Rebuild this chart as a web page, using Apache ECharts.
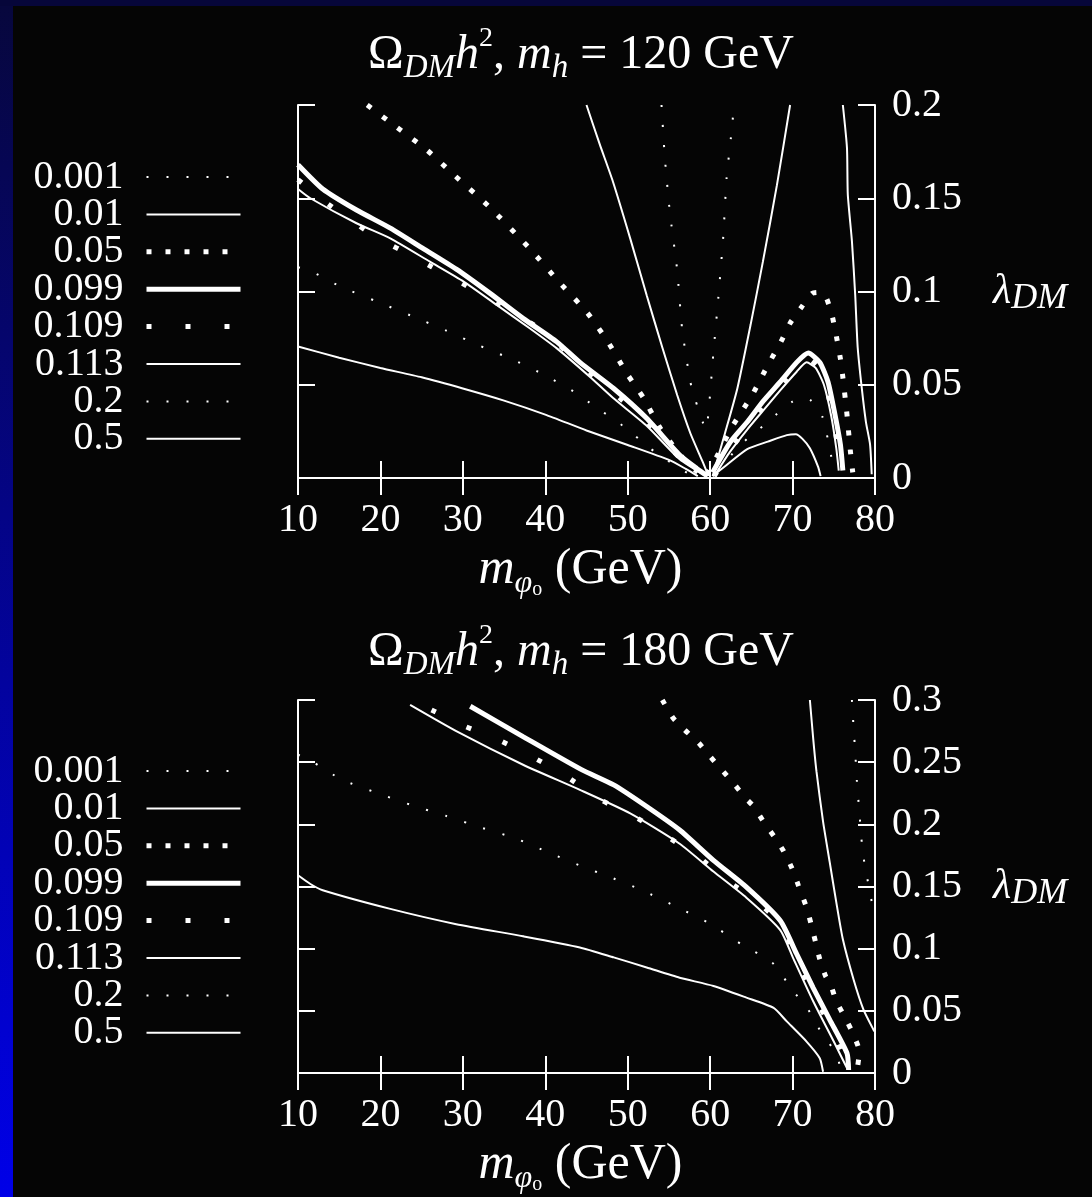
<!DOCTYPE html>
<html><head><meta charset="utf-8">
<script src="https://cdn.jsdelivr.net/npm/echarts@6/dist/echarts.min.js"></script>
<style>html,body{margin:0;padding:0;background:#050505;}#c{width:1092px;height:1197px;}</style>
</head><body><div id="c"></div>
<script>
// ---------- data ----------
const levels = ['0.001', '0.01', '0.05', '0.099', '0.109', '0.113', '0.2', '0.5'];
const xTicks = [10, 20, 30, 40, 50, 60, 70, 80];
const yTicksTop = [0, 0.05, 0.1, 0.15, 0.2];
const yTicksBottom = [0, 0.05, 0.1, 0.15, 0.2, 0.25, 0.3];
const higgsMasses = ['120', '180'];

// m_h = 120 GeV contours: [m_phi (GeV), lambda_DM], one list per branch
const top_0001 = [[[54.1,0.2],[54.5,0.172],[55.1,0.143],[56.0,0.1115],[56.6,0.080],[57.6,0.0515],[58.2,0.042],[59.1,0.030],[59.5,0.026],[59.8,0.035],[60.4,0.0675],[61.0,0.097],[61.6,0.130],[62.0,0.161],[62.7,0.19],[62.85,0.2]]];
const top_001 = [
  [[45.0,0.2],[46.6,0.179],[48.2,0.159],[50.3,0.1285],[52.3,0.098],[54.2,0.070],[56.0,0.0445],[57.6,0.024],[59.1,0.0086],[59.8,0.001]],
  [[60.3,0.001],[61.8,0.024],[63.3,0.048],[64.9,0.082],[66.4,0.116],[68.1,0.157],[69.7,0.2]],
  [[76.1,0.2],[76.6,0.177],[76.7,0.152],[77.2,0.127],[77.6,0.098],[77.9,0.070],[78.4,0.048],[78.9,0.030],[79.4,0.018],[79.6,0.002]]
];
const top_005 = [
  [[18.4,0.2],[22,0.188],[25.6,0.176],[28.8,0.163],[33.3,0.145],[37.9,0.124],[42,0.1035],[45.1,0.0886],[47.6,0.073],[49.9,0.056],[51.9,0.043],[53.9,0.027],[55.4,0.018],[57,0.009],[58.5,0.003]],
  [[59.6,0.002],[61,0.013],[62.6,0.027],[65.1,0.0445],[67,0.0605],[68.7,0.074],[69.7,0.083],[71.1,0.0917],[72.4,0.099],[73.4,0.0995],[74.1,0.0965],[74.8,0.087],[75.4,0.074],[75.8,0.064],[76.1,0.054],[76.6,0.034],[77,0.015],[77.3,0.003]]
];
const top_0099 = [
  [[10,0.168],[13,0.155],[17.1,0.1437],[21.2,0.134],[25.2,0.123],[29.2,0.112],[33.3,0.099],[37.3,0.0856],[41.4,0.073],[44.2,0.062],[48.3,0.048],[52.3,0.032],[56.3,0.0123],[58.4,0.005],[59.7,0.001]],
  [[60.3,0.003],[62.4,0.019],[64.5,0.030],[66.4,0.041],[68.5,0.0515],[70.5,0.062],[71.9,0.067],[73.3,0.062],[74.3,0.0515],[75.1,0.035],[75.8,0.018],[76.1,0.004]]
];
const top_0109 = [
  [[10,0.160],[13,0.149],[16.1,0.1392],[19.7,0.1285],[22.2,0.1228],[26.2,0.1133],[29.9,0.1044],[34.5,0.0928],[39.7,0.079],[44.2,0.061],[48.2,0.046],[52.3,0.030],[56.3,0.011],[59.5,0.001]],
  [[60.5,0.001],[62.4,0.015],[64.5,0.027],[66.4,0.038],[68.5,0.049],[70.5,0.059],[71.8,0.064],[73,0.060],[74,0.050],[74.9,0.033],[75.5,0.016],[75.8,0.004]]
];
const top_0113 = [
  [[10,0.155],[11.5,0.150],[17.1,0.1366],[21.2,0.1285],[26,0.116],[30.1,0.1053],[34.1,0.0928],[38.1,0.0803],[41.4,0.0695],[45.4,0.0543],[48.2,0.043],[52.3,0.028],[56.3,0.010],[59.5,0.001]],
  [[60.5,0.001],[62.4,0.014],[64.5,0.026],[66.4,0.036],[68.5,0.047],[70.5,0.057],[71.7,0.062],[72.8,0.059],[73.8,0.050],[74.7,0.033],[75.3,0.016],[75.6,0.004]]
];
const top_02 = [
  [[10,0.113],[11.7,0.1106],[15,0.103],[19.9,0.094],[24,0.0865],[28,0.079],[32,0.071],[36.3,0.063],[40,0.055],[43.8,0.0454],[45.8,0.039],[49.4,0.028],[52.7,0.016],[54.3,0.011],[56,0.006],[57.5,0.002]],
  [[61,0.004],[63.3,0.016],[65,0.023],[66.9,0.0295],[68.5,0.036],[70,0.041],[71,0.0425],[72.1,0.042],[73.6,0.033],[74.5,0.016],[75,0.004]]
];
const top_05 = [
  [[10,0.0705],[15,0.0645],[20,0.059],[25,0.054],[30,0.048],[35,0.0415],[40,0.034],[45,0.0255],[50,0.0177],[55,0.0097],[57,0.005],[58.5,0.001]],
  [[60.3,0.001],[62,0.007],[64.5,0.0155],[67,0.0195],[69.3,0.023],[70.4,0.0235],[71.2,0.021],[72.1,0.016],[73.1,0.006],[73.4,0.001]]
];

// m_h = 180 GeV contours
const bot_0001 = [[[77.2,0.3],[77.4,0.278],[77.6,0.258],[77.8,0.235],[78.1,0.21],[78.4,0.185],[78.8,0.165],[79.2,0.152],[79.6,0.138],[80,0.127]]];
const bot_001 = [[[72.1,0.3],[72.5,0.2692],[72.9,0.2425],[73.7,0.2021],[74.5,0.1698],[75.3,0.1374],[76.1,0.1075],[77.4,0.0752],[78.6,0.051],[79.8,0.035],[80,0.033]]];
const bot_005 = [[[54.2,0.3],[55.5,0.2855],[56.9,0.276],[58.6,0.2655],[60,0.2545],[61.6,0.2424],[63,0.2317],[64.3,0.221],[65.3,0.2143],[66.6,0.2008],[67.9,0.189],[68.9,0.1785],[69.9,0.165],[70.7,0.151],[71.7,0.133],[72.3,0.1185],[72.8,0.105],[73.3,0.0916],[74,0.078],[74.6,0.0714],[75.3,0.0579],[76.4,0.0442],[77.4,0.0307],[78.1,0.0172],[77.8,0.001]]];
const bot_0099 = [[[30.9,0.295],[37.3,0.2706],[44.4,0.244],[48.3,0.2317],[52.3,0.2143],[56.3,0.1954],[60.4,0.171],[64.4,0.1495],[68.5,0.1226],[70.5,0.0957],[72.5,0.0685],[74.5,0.043],[76.6,0.016],[76.8,0.0024]]];
const bot_0109 = [[[26.2,0.292],[28.2,0.2855],[30.3,0.2787],[34.3,0.268],[38.3,0.2547],[42,0.241],[46.8,0.2195],[50.5,0.2075],[54.8,0.19],[58.6,0.1738],[62,0.155],[65.6,0.1388],[68.9,0.117],[70.3,0.093],[72.5,0.063],[74.8,0.035],[76.7,0.005]]];
const bot_0113 = [[[23.6,0.296],[29.2,0.2749],[37.3,0.2479],[44.2,0.2277],[50.3,0.2088],[56.3,0.1844],[60.4,0.162],[64.4,0.141],[68.5,0.115],[70.1,0.092],[72.5,0.0577],[75,0.0253],[76.6,0.004]]];
const bot_02 = [[[10,0.256],[11.6,0.251],[15.3,0.236],[19.7,0.225],[23.7,0.2156],[28,0.2067],[32.1,0.1976],[36.4,0.1887],[40.5,0.177],[44.4,0.1663],[47.9,0.1575],[51.8,0.1468],[56,0.1334],[60,0.12],[63.8,0.1035],[67.5,0.089],[70.1,0.0657],[71.9,0.051],[72.9,0.039],[74.1,0.0267],[75.3,0.016],[75.9,0.001]]];
const bot_05 = [[[10,0.159],[11.5,0.152],[13,0.147],[21.2,0.132],[29.2,0.1197],[37.3,0.110],[44.2,0.101],[48.3,0.093],[52.3,0.0849],[56.3,0.0766],[60.4,0.070],[64.4,0.0606],[67.7,0.0523],[69.3,0.0415],[71.7,0.0253],[73.3,0.0119],[73.7,0.001]]];

const topContours = [top_0001, top_001, top_005, top_0099, top_0109, top_0113, top_02, top_05];
const botContours = [bot_0001, bot_001, bot_005, bot_0099, bot_0109, bot_0113, bot_02, bot_05];

// ---------- styles ----------
const F = 'Liberation Serif';
const W = '#ffffff';
const lineStyles = {
  '0.001': {width: 2, type: [2, 18]},
  '0.01':  {width: 2, type: 'solid'},
  '0.05':  {width: 5, type: [5, 14]},
  '0.099': {width: 5, type: 'solid'},
  '0.109': {width: 5, type: [5, 34]},
  '0.113': {width: 2, type: 'solid'},
  '0.2':   {width: 2, type: [2, 18]},
  '0.5':   {width: 2, type: 'solid'}
};
const titleRich = {
  n:  {fontFamily: F, fontSize: 48, color: W, lineHeight: 60},
  i:  {fontFamily: F, fontStyle: 'italic', fontSize: 48, color: W, lineHeight: 60},
  sb: {fontFamily: F, fontStyle: 'italic', fontSize: 33, color: W, lineHeight: 32, verticalAlign: 'bottom'},
  sp: {fontFamily: F, fontSize: 28, color: W, lineHeight: 28, verticalAlign: 'top'}
};
const nameRich = {
  n:  {fontFamily: F, fontSize: 50, color: W, lineHeight: 60},
  i:  {fontFamily: F, fontStyle: 'italic', fontSize: 50, color: W, lineHeight: 60},
  sb: {fontFamily: F, fontStyle: 'italic', fontSize: 32, color: W, lineHeight: 32, verticalAlign: 'bottom'},
  so: {fontFamily: F, fontSize: 20, color: W, lineHeight: 46, verticalAlign: 'bottom'}
};
const lamRich = {
  i:  {fontFamily: F, fontStyle: 'italic', fontSize: 42, color: W, lineHeight: 50},
  sb: {fontFamily: F, fontStyle: 'italic', fontSize: 36, color: W, lineHeight: 34, verticalAlign: 'bottom'}
};

const grids = [
  {left: 298, top: 105, width: 577, height: 373},
  {left: 298, top: 700, width: 577, height: 373}
];
const yMax = [0.2, 0.3];

const xAxes = [], yAxes = [], series = [], legends = [];
[0, 1].forEach(p => {
  const base = {gridIndex: p, type: 'value', min: 10, max: 80, interval: 10, splitLine: {show: false},
    axisLine: {lineStyle: {color: W, width: 2}},
    axisTick: {inside: true, length: 17, lineStyle: {color: W, width: 2}}};
  xAxes.push(Object.assign({}, base, {position: 'bottom',
    axisLabel: {color: W, fontFamily: F, fontSize: 40, margin: 22},
    name: '{i|m}{sb|φ}{so|o}{n| (GeV)}', nameLocation: 'middle', nameGap: 62,
    nameTextStyle: {rich: nameRich, padding: [0, 12, 0, 0]}}));
  xAxes.push(Object.assign({}, base, {position: 'top', axisLabel: {show: false}}));
  const ybase = {gridIndex: p, type: 'value', min: 0, max: yMax[p], interval: 0.05, splitLine: {show: false},
    axisLine: {lineStyle: {color: W, width: 2}},
    axisTick: {inside: true, length: 17, lineStyle: {color: W, width: 2}}};
  yAxes.push(Object.assign({}, ybase, {position: 'left', axisLabel: {show: false}}));
  yAxes.push(Object.assign({}, ybase, {position: 'right',
    axisLabel: {color: W, fontFamily: F, fontSize: 40, margin: 17},
    name: '{i|λ}{sb|DM}', nameLocation: 'middle', nameRotate: 0, nameGap: 118,
    nameTextStyle: {rich: lamRich, align: 'left'}}));

  const contours = p === 0 ? topContours : botContours;
  contours.forEach((branches, k) => {
    const lv = levels[k];
    branches.forEach(br => {
      series.push({
        type: 'line', name: lv, xAxisIndex: 2 * p, yAxisIndex: 2 * p,
        data: br, symbol: 'none', showSymbol: false, smooth: 0.2, clip: true,
        lineStyle: {color: W, width: lineStyles[lv].width, type: lineStyles[lv].type, cap: 'butt'},
        itemStyle: {color: W}, silent: true, animation: false
      });
    });
  });

  legends.push({
    data: levels.map(lv => ({
      name: lv,
      lineStyle: {color: W, width: lineStyles[lv].width, type: lineStyles[lv].type, cap: 'butt'},
      itemStyle: {opacity: 0}
    })),
    orient: 'vertical', align: 'right', right: 849, top: p === 0 ? 157 : 751,
    itemGap: -2.6, itemWidth: 94, itemHeight: 14, padding: 0, selectedMode: false,
    itemStyle: {opacity: 0},
    textStyle: {color: W, fontFamily: F, fontSize: 40},
    formatter: n => n + ' \u2009'
  });
});

const titleText = mh => '{n|Ω}{sb|DM}{i|h}{sp|2}{n|, }{i|m}{sb|h}{n| = ' + mh + ' GeV}';

const chart = echarts.init(document.getElementById('c'), null, {renderer: 'canvas'});
chart.setOption({
  backgroundColor: '#050505',
  animation: false,
  grid: grids,
  xAxis: xAxes,
  yAxis: yAxes,
  legend: legends,
  series: series,
  graphic: [
    {type: 'rect', shape: {x: 0, y: 0, width: 13, height: 1197}, silent: true,
      style: {fill: new echarts.graphic.LinearGradient(0, 0, 0, 1, [{offset: 0, color: '#07073c'}, {offset: 1, color: '#0000e8'}])}},
    {type: 'rect', shape: {x: 0, y: 0, width: 1092, height: 6}, silent: true, style: {fill: '#06063a'}},
    {type: 'text', x: 581, y: 55, silent: true,
      style: {text: titleText(higgsMasses[0]), rich: titleRich, align: 'center', verticalAlign: 'middle', fill: W}},
    {type: 'text', x: 581, y: 652, silent: true,
      style: {text: titleText(higgsMasses[1]), rich: titleRich, align: 'center', verticalAlign: 'middle', fill: W}}
  ]
});
</script></body></html>
